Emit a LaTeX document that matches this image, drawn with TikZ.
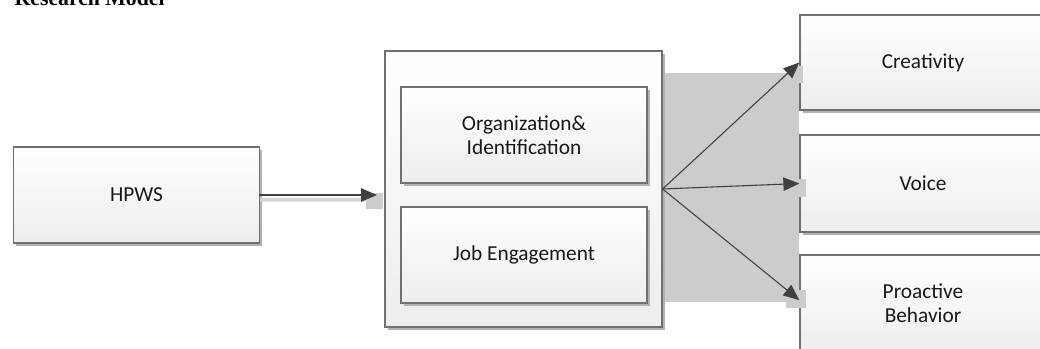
\documentclass[tikz,border=0pt]{standalone}
\usepackage{fontspec}
\setmainfont{Carlito}
\newfontfamily\headfont{Liberation Serif}
\usetikzlibrary{arrows.meta,shadows}

\definecolor{boxline}{HTML}{707070}
\definecolor{panel}{HTML}{CCCCCC}
\definecolor{arrowgray}{HTML}{404040}

\tikzset{
  var/.style={draw=boxline,line width=0.9pt,top color=white,bottom color=black!7,
    drop shadow={shadow xshift=2.2pt,shadow yshift=-2.2pt,fill=black!30,opacity=1},
    minimum width=184.5pt,minimum height=72pt,inner sep=0pt,
    align=center,font=\fontsize{16}{18}\selectfont,text=black!90},
  path/.style={draw=arrowgray,line width=0.8pt,-{Triangle[length=12pt,width=10pt]}}
}

\begin{document}
\begin{tikzpicture}[x=0.75pt,y=-0.75pt]
\useasboundingbox (0,0) rectangle (1040,349);
\clip (0,0) rectangle (1040,349);

\node [anchor=base west,font=\headfont\bfseries\fontsize{16.3}{19}\selectfont] (title) at (10,6) {Research Model};

% grey band behind the mediators
\fill [panel] (663,73) rectangle (799,302);

\node [var] (hpws) at (136.5,195) {HPWS};
\node [var,minimum width=207.75pt,minimum height=207pt] (model) at (523.5,189) {};
\node [var] (orgid) at (524,135) {Organization\&\\Identification};
\node [var] (engage) at (524,255) {Job Engagement};
\node [var,minimum height=71.25pt] (creat) at (923,62.5) {Creativity};
\node [var,minimum height=72.75pt] (voice) at (923,183.5) {Voice};
\node [var,minimum height=72.75pt] (proact) at (923,303.5) {Proactive\\Behavior};

% little grey pads under the arrow heads
\fill [panel] (366,193) rectangle (383,209);
\fill [panel] (790,66) rectangle (803,83);
\fill [panel] (787,179) rectangle (806,197);
\fill [panel] (786,290) rectangle (806,308);

\coordinate (modelin) at (377,195);
\draw [panel!80!white,line width=3pt] ([yshift=-3.5pt]hpws.east) -- (368,199.7);
\draw [path,line width=1.1pt,shorten <=-1pt] (hpws.east) -- (modelin);

% the outcome arrows:
\draw [path] (model.east) -- (creat.west);
\draw [path] (model.east) -- (voice.west);
\draw [path] (model.east) -- ([yshift=2.5pt]proact.west);

\end{tikzpicture}
\end{document}
